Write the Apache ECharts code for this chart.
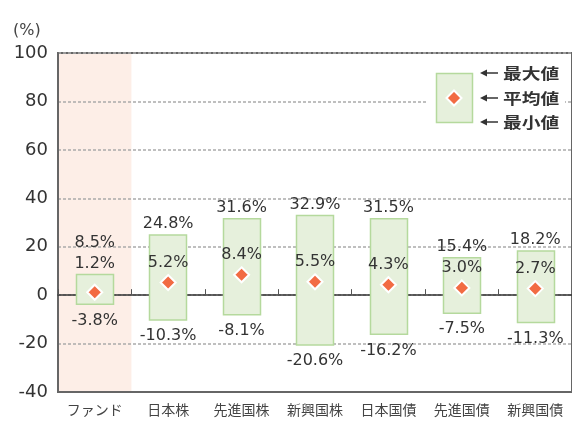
<!DOCTYPE html>
<html><head><meta charset="utf-8">
<script src="https://cdn.jsdelivr.net/npm/echarts@6/dist/echarts.min.js"></script>
<style>html,body{margin:0;padding:0;background:#fff}#c{width:572px;height:422px}</style>
</head><body><div id="c"></div>
<script>
const categories = ['ファンド', '日本株', '先進国株', '新興国株', '日本国債', '先進国債', '新興国債'];
const maxValues = [8.5, 24.8, 31.6, 32.9, 31.5, 15.4, 18.2];
const avgValues = [1.2, 5.2, 8.4, 5.5, 4.3, 3.0, 2.7];
const minValues = [-3.8, -10.3, -8.1, -20.6, -16.2, -7.5, -11.3];
const yMin = -40, yMax = 100, yStep = 20;
const highlightCategory = 'ファンド';
const legendLabels = ['最大値', '平均値', '最小値'];

const fmt = v => v.toFixed(1) + '%';
const LABEL_FONT = '16px "DejaVu Sans"';
const TXT = '#333';

const rangeData = categories.map((c, i) => [i, maxValues[i], avgValues[i], minValues[i]]);

function renderRange(params, api) {
  const i = api.value(0);
  const top = api.coord([i, api.value(1)]);
  const bot = api.coord([i, api.value(3)]);
  const avg = api.coord([i, api.value(2)]);
  const bw = api.size([1, 0])[0];
  const w = bw * 0.51;
  let maxY = top[1] - 11, avgY = avg[1] - 20;
  if (avgY - maxY < 18) { avgY = maxY; maxY = avgY - 21; }
  const minY = bot[1] + 16;
  const t = (text, y) => ({type: 'text', style: {text, x: top[0], y, align: 'center', verticalAlign: 'middle', font: LABEL_FONT, fill: TXT}});
  return {type: 'group', children: [
    {type: 'rect', shape: {x: Math.round(top[0] - w / 2) + 0.5, y: top[1], width: Math.round(w), height: bot[1] - top[1]},
     style: {fill: '#e6f0dc', stroke: '#b5d99d', lineWidth: 1.5}},
    t(fmt(api.value(1)), maxY),
    t(fmt(api.value(2)), avgY),
    t(fmt(api.value(3)), minY)
  ]};
}

function renderBand(params, api) {
  const i = api.value(0);
  const a = api.coord([i, yMax]);
  const b = api.coord([i, yMin]);
  const bw = api.size([1, 0])[0];
  return {type: 'rect', shape: {x: a[0] - bw / 2, y: a[1], width: bw, height: b[1] - a[1]}, style: {fill: '#fdeee7'}};
}

const legendRows = [73, 98, 122];
const graphics = [
  {type: 'text', x: 13, y: 31, z: 100, style: {text: '(%)', font: '16px "DejaVu Sans"', fill: '#444', verticalAlign: 'middle'}},
  {type: 'rect', z: 100, shape: {x: 428, y: 62, width: 137, height: 66}, style: {fill: '#fff'}},
  {type: 'rect', z: 101, shape: {x: 436.5, y: 73.5, width: 36, height: 49}, style: {fill: '#e6f0dc', stroke: '#b5d99d', lineWidth: 1.5}},
  {type: 'polygon', z: 102, shape: {points: [[454, 90.5], [461.5, 98], [454, 105.5], [446.5, 98]]}, style: {fill: '#f26b43', stroke: '#fff', lineWidth: 2}}
];
legendRows.forEach((y, k) => {
  graphics.push({type: 'line', z: 101, shape: {x1: 484, y1: y, x2: 498, y2: y}, style: {stroke: '#333', lineWidth: 1.5}});
  graphics.push({type: 'polygon', z: 101, shape: {points: [[480, y], [487, y - 3.5], [487, y + 3.5]]}, style: {fill: '#333'}});
  graphics.push({type: 'text', z: 101, x: 503, y: y, scaleX: 1.25, style: {text: legendLabels[k], font: 'bold 15px "Noto Sans CJK JP"', fill: '#333', verticalAlign: 'middle'}});
});

const chart = echarts.init(document.getElementById('c'), null, {renderer: 'canvas'});
chart.setOption({
  animation: false,
  backgroundColor: '#fff',
  grid: {left: 58, top: 53, width: 522, bottom: 30, show: true, borderColor: '#666', borderWidth: 2, backgroundColor: 'transparent'},
  xAxis: [
    {type: 'category', data: categories, position: 'bottom',
     axisLine: {onZero: false, show: true, lineStyle: {color: '#666', width: 2}},
     axisTick: {show: false},
     axisLabel: {show: true, margin: 11, color: '#444', fontSize: 14, fontFamily: '"Noto Sans CJK JP"', interval: 0},
     splitLine: {show: false}},
    {type: 'category', data: categories, position: 'top',
     axisLine: {onZero: true, show: true, lineStyle: {color: '#333', width: 1.5}},
     axisTick: {show: true, inside: false, length: 6, lineStyle: {color: '#555', width: 1}},
     axisLabel: {show: false}, splitLine: {show: false}}
  ],
  yAxis: {type: 'value', min: yMin, max: yMax, interval: yStep,
    axisLine: {show: true, lineStyle: {color: '#666', width: 2}},
    axisTick: {show: false},
    axisLabel: {margin: 10, color: '#333', fontSize: 18, fontFamily: '"DejaVu Sans"'},
    splitLine: {show: true, lineStyle: {color: '#aaa', type: [3, 2], width: 1.5}}},
  series: [
    {type: 'custom', z: -1, xAxisIndex: 0, renderItem: renderBand, data: [[categories.indexOf(highlightCategory)]], silent: true},
    {type: 'custom', z: 2, xAxisIndex: 0, renderItem: renderRange, data: rangeData, silent: true},
    {type: 'scatter', z: 5, xAxisIndex: 0, data: avgValues.map((v, i) => [i, v]), symbol: 'diamond', symbolSize: 15,
     itemStyle: {color: '#f26b43', borderColor: '#fff', borderWidth: 2, opacity: 1}, silent: true}
  ],
  graphic: graphics
});
</script></body></html>
